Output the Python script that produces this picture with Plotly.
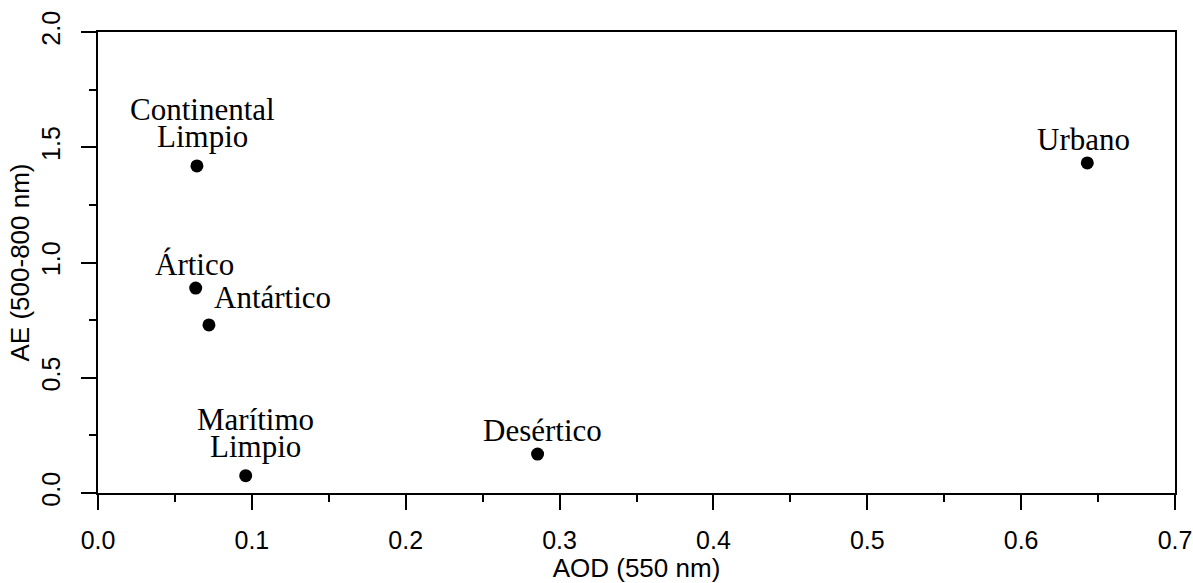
import plotly.graph_objects as go

# ---- data ----
names = ["Continental<br>Limpio", "Urbano", "Ártico", "Antártico", "Marítimo<br>Limpio", "Desértico"]
aod = [0.0643, 0.643, 0.0635, 0.0721, 0.096, 0.2857]
ae = [1.419, 1.432, 0.889, 0.729, 0.075, 0.169]
x_ticks = [0.0, 0.1, 0.2, 0.3, 0.4, 0.5, 0.6, 0.7]
y_ticks = [0.0, 0.5, 1.0, 1.5, 2.0]

# ---- label placement (pixel offsets relative to each point) ----
# (xshift, xanchor, yshift of first line) ; line gap for two-line labels
label_style = [
    (5.5, "center", 56),
    (-3.5, "center", 23.5),
    (-1, "center", 23.5),
    (3, "left", 27.5),
    (10, "center", 56),
    (5, "center", 23.5),
]
LINE_GAP = 27

fig = go.Figure()
fig.add_trace(go.Scatter(
    x=aod, y=ae, mode="markers",
    marker=dict(size=13, color="black"),
    showlegend=False, hoverinfo="skip",
))

for name, xv, yv, (xs, xa, ys) in zip(names, aod, ae, label_style):
    lines = name.split("<br>")
    for i, line in enumerate(lines):
        fig.add_annotation(
            x=xv, y=yv, xref="x", yref="y", text=line, showarrow=False,
            xanchor=xa, yanchor="middle", xshift=xs, yshift=ys - i * LINE_GAP,
            font=dict(family="Liberation Serif", size=31, color="black"),
        )

axis_common = dict(
    showline=True, linecolor="black", linewidth=1.5, mirror=True,
    ticks="outside", ticklen=15, tickwidth=1.5, tickcolor="black",
    showgrid=False, zeroline=False, ticklabeloverflow="allow",
    tickfont=dict(family="Liberation Sans", size=25, color="black"),
)

fig.update_xaxes(
    range=[0, 0.7], tickvals=x_ticks, tickformat=".1f",
    minor=dict(ticks="outside", ticklen=7, tickwidth=1.5, tickcolor="black", dtick=0.05, showgrid=False),
    title=dict(text="AOD (550 nm)", font=dict(family="Liberation Sans", size=26, color="black"), standoff=1),
    ticklabelstandoff=9,
    **axis_common,
)
fig.update_yaxes(
    range=[0, 2], tickvals=y_ticks, tickformat=".1f", tickangle=-90,
    minor=dict(ticks="outside", ticklen=7, tickwidth=1.5, tickcolor="black", dtick=0.25, showgrid=False),
    title=dict(text="AE (500-800 nm)", font=dict(family="Liberation Sans", size=26, color="black"), standoff=0),
    ticklabelstandoff=11,
    **axis_common,
)

fig.update_layout(
    width=1193, height=583,
    margin=dict(l=98, r=18, t=32, b=90, autoexpand=False),
    plot_bgcolor="white", paper_bgcolor="white",
)

# remove the default 8px page margin so the figure fills the window exactly
fig.write_html("out.html", config={"displayModeBar": False},
               post_script="document.body.style.margin='0';")
